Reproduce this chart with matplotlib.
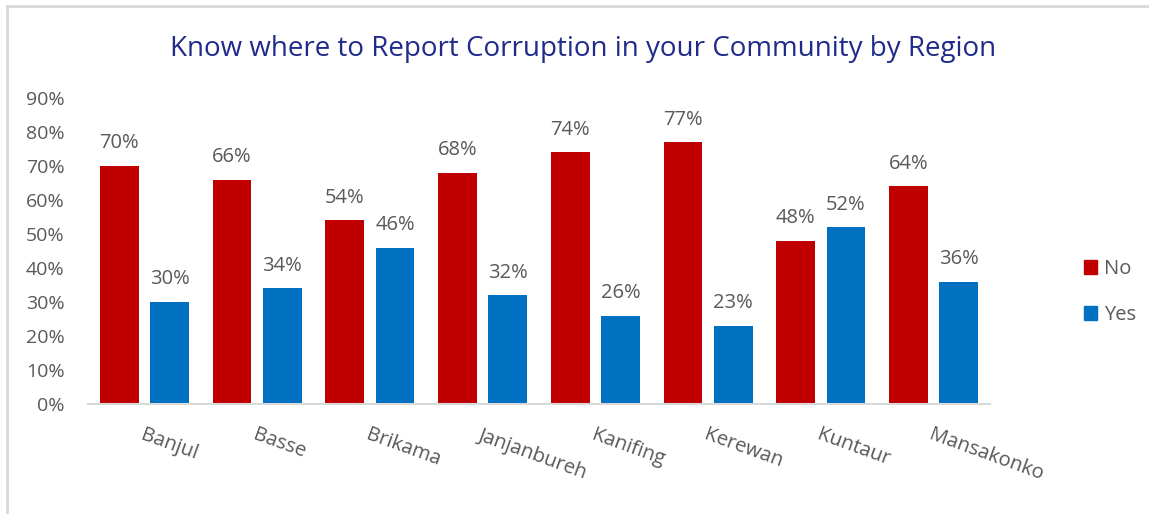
import matplotlib
matplotlib.use("Agg")
import matplotlib.pyplot as plt
import numpy as np
from matplotlib.patches import Rectangle
from matplotlib.lines import Line2D

regions = ["Banjul", "Basse", "Brikama", "Janjanbureh", "Kanifing",
           "Kerewan", "Kuntaur", "Mansakonko"]
no_vals = [70, 66, 54, 68, 74, 77, 48, 64]
yes_vals = [30, 34, 46, 32, 26, 23, 52, 36]
series = ["No", "Yes"]
colors = ["#C00000", "#0070C0"]
title = "Know where to Report Corruption in your Community by Region"

plt.rcParams["font.family"] = ["Open Sans", "DejaVu Sans"]
gray = "#595959"

fig = plt.figure(figsize=(11.49, 5.14), dpi=100)
ax = fig.add_axes([88 / 1149, 1 - 404 / 514, (990 - 88) / 1149, (404 - 98) / 514])

x = np.arange(len(regions))
w = 0.345
gap = 0.1
for i, (vals, col) in enumerate(zip([no_vals, yes_vals], colors)):
    offs = (-(w + gap) / 2) if i == 0 else ((w + gap) / 2)
    bars = ax.bar(x + offs, vals, width=w, color=col, label=series[i])
    for b, v in zip(bars, vals):
        ax.annotate(f"{v}%", (b.get_x() + b.get_width() / 2, v),
                    xytext=(0, 9), textcoords="offset points",
                    ha="center", va="bottom", fontsize=14.5, color=gray)

ax.set_xlim(-0.5, len(regions) - 0.5)
ax.set_ylim(0, 90)
ax.set_yticks(range(0, 91, 10))
ax.set_yticklabels([f"{t}%" for t in range(0, 91, 10)])
ax.tick_params(axis="y", length=0, labelsize=14, labelcolor=gray, pad=17)
ax.set_xticks(x)
ax.set_xticklabels(regions, rotation=-20, ha="left", rotation_mode="anchor")
ax.tick_params(axis="x", length=0, labelsize=14.5, labelcolor=gray, pad=15)
for s in ["top", "right", "left"]:
    ax.spines[s].set_visible(False)
ax.spines["bottom"].set_color("#D9D9D9")
ax.spines["bottom"].set_linewidth(1.5)

fig.text(583 / 1149, 1 - 49 / 514, title, ha="center", va="center",
         fontsize=20, color="#1F2A8A")

handles = [Rectangle((0, 0), 1, 1, color=c) for c in colors]
fig.legend(handles, series, loc="center left", bbox_to_anchor=(1066 / 1149, 1 - 292 / 514),
           frameon=False, fontsize=14.5, labelcolor=gray, handlelength=0.65,
           handleheight=0.65, handletextpad=0.35, labelspacing=1.3)

# chart border (top and left edges)
fig.add_artist(Line2D([7 / 1149, 7 / 1149], [0, 1 - 6 / 514], transform=fig.transFigure,
                      color="#D9D9D9", lw=2))
fig.add_artist(Line2D([7 / 1149, 1], [1 - 6 / 514, 1 - 6 / 514], transform=fig.transFigure,
                      color="#D9D9D9", lw=2))

fig.savefig("out.png", dpi=100)
